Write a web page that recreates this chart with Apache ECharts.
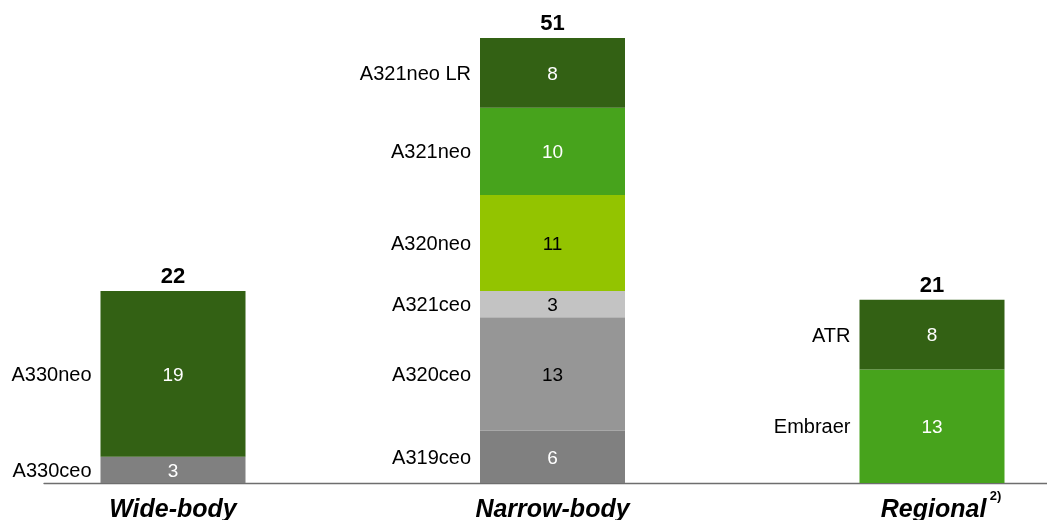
<!DOCTYPE html>
<html>
<head>
<meta charset="utf-8">
<script src="https://cdn.jsdelivr.net/npm/echarts@6/dist/echarts.min.js"></script>
<style>
html,body{margin:0;padding:0;background:#fff;}
#chart{width:1047px;height:520px;}
</style>
</head>
<body>
<div id="chart"></div>
<script>
const categories = ['Wide-body', 'Narrow-body', 'Regional'];
const categoryNotes = ['', '', '2)'];
const segmentNames = ['A330ceo', 'A330neo', 'A319ceo', 'A320ceo', 'A321ceo', 'A320neo', 'A321neo', 'A321neo LR', 'Embraer', 'ATR'];
const segmentGroup = [0, 0, 1, 1, 1, 1, 1, 1, 2, 2];
const segmentValues = [3, 19, 6, 13, 3, 11, 10, 8, 13, 8];
const totals = [22, 51, 21];

const segmentColors = ['#808080', '#336114', '#808080', '#969696', '#c3c3c3', '#93c400', '#47a31c', '#336114', '#47a31c', '#336114'];
const segmentTextColors = ['#fff', '#fff', '#fff', '#000', '#000', '#000', '#fff', '#fff', '#fff', '#fff'];

const FONT = '"Liberation Sans", Arial, sans-serif';
const BW = 145;

function rowFor(i) {
  return categories.map((c, k) => k === segmentGroup[i] ? segmentValues[i] : '-');
}

const series = [];
segmentNames.forEach((n, i) => {
  series.push({
    name: n, type: 'bar', stack: 'bars', xAxisIndex: 0, yAxisIndex: 0,
    barWidth: BW, barGap: '-100%', clip: false, silent: true,
    data: rowFor(i),
    itemStyle: { color: segmentColors[i] },
    label: { show: true, position: 'inside', offset: [0, 1.5], fontFamily: FONT, fontSize: 19,
      color: segmentTextColors[i], formatter: p => p.value }
  });
});
series.push({
  name: 'total', type: 'bar', stack: 'bars', xAxisIndex: 0, yAxisIndex: 0,
  barWidth: BW, barGap: '-100%', clip: false, silent: true,
  data: totals.map(() => 0),
  itemStyle: { color: 'rgba(0,0,0,0)' },
  label: { show: true, position: 'top', distance: 3, fontFamily: FONT, fontSize: 22,
    fontWeight: 'bold', color: '#000', formatter: p => totals[p.dataIndex] }
});
segmentNames.forEach((n, i) => {
  series.push({
    name: n + ' name', type: 'bar', stack: 'names', xAxisIndex: 0, yAxisIndex: 0,
    barWidth: BW, barGap: '-100%', clip: false, silent: true,
    data: rowFor(i),
    itemStyle: { color: 'rgba(0,0,0,0)' },
    label: { show: true, position: 'left', distance: 9, offset: [0, 1.5], fontFamily: FONT, fontSize: 20,
      color: '#000', formatter: () => n }
  });
});

const chart = echarts.init(document.getElementById('chart'), null, { renderer: 'canvas' });
chart.setOption({
  animation: false,
  backgroundColor: '#fff',
  grid: [
    { left: 173, right: 115, top: 38, bottom: 37, containLabel: false, outerBoundsMode: 'none' },
    { left: 44, right: 0, top: 38, bottom: 37, containLabel: false, outerBoundsMode: 'none' }
  ],
  xAxis: [
    { type: 'category', gridIndex: 0, data: categories, boundaryGap: false,
      axisLine: { show: false }, axisTick: { show: false }, splitLine: { show: false },
      axisLabel: { margin: 7, interval: 0, hideOverlap: false,
        formatter: (v, idx) => categoryNotes[idx] ? '{cp|' + v + '} {s|' + categoryNotes[idx] + '}' : '{c|' + v + '}',
        rich: {
          c: { fontFamily: FONT, fontSize: 25, lineHeight: 40, fontWeight: 'bold', fontStyle: 'italic', color: '#000' },
          cp: { fontFamily: FONT, fontSize: 25, lineHeight: 40, fontWeight: 'bold', fontStyle: 'italic', color: '#000', padding: [0, 0, 0, 18] },
          s: { fontFamily: FONT, fontSize: 13, lineHeight: 14, fontWeight: 'bold', color: '#000', verticalAlign: 'top' }
        } } },
    { type: 'value', gridIndex: 1, min: 0, max: 1,
      axisLine: { show: true, onZero: false, lineStyle: { color: '#6e6e6e', width: 1.3 } },
      axisTick: { show: false }, axisLabel: { show: false }, splitLine: { show: false } }
  ],
  yAxis: [
    { type: 'value', gridIndex: 0, min: 0, max: Math.max(...totals), show: false, splitLine: { show: false } },
    { type: 'value', gridIndex: 1, min: 0, max: 1, show: false, splitLine: { show: false } }
  ],
  series: series
});
</script>
</body>
</html>
